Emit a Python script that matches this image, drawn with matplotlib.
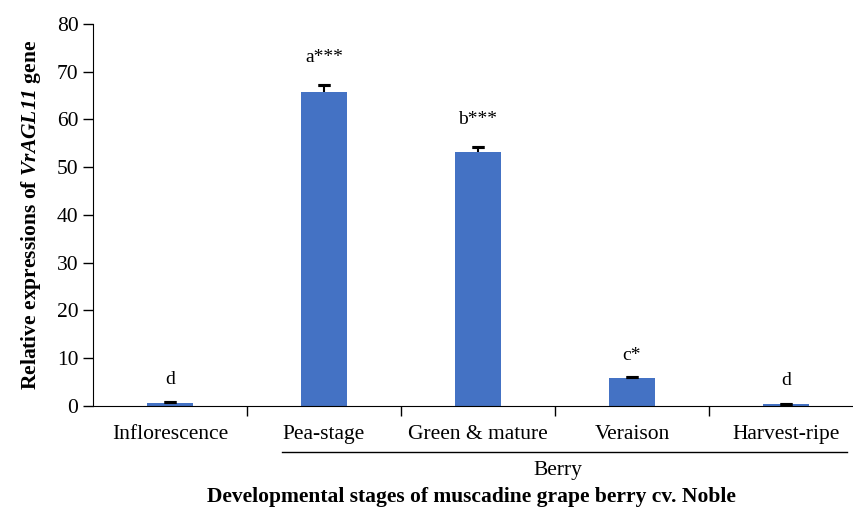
import matplotlib
matplotlib.use('Agg')
import matplotlib.pyplot as plt
import numpy as np

plt.rcParams['font.family'] = ['Liberation Serif', 'DejaVu Serif']
plt.rcParams['mathtext.fontset'] = 'custom'
plt.rcParams['mathtext.rm'] = 'Liberation Serif'
plt.rcParams['mathtext.it'] = 'Liberation Serif:italic'
plt.rcParams['mathtext.bf'] = 'Liberation Serif:bold'
plt.rcParams['mathtext.bfit'] = 'Liberation Serif:italic:bold'

stages = ['Inflorescence', 'Pea-stage', 'Green & mature', 'Veraison', 'Harvest-ripe']
expr = [0.7, 65.7, 53.1, 5.9, 0.35]
err = [0.2, 1.6, 1.2, 0.2, 0.1]
letters = ['d', 'a***', 'b***', 'c*', 'd']
letter_y = [5.5, 73.0, 60.0, 10.5, 5.4]

fig = plt.figure(figsize=(8.54, 5.09), dpi=100)
ax = fig.add_axes([0.1089, 0.2024, 0.9016, 0.7505])

x = np.arange(len(stages))
ax.bar(x, expr, width=0.3, color='#4472C4', zorder=2)

# upper error only: stem plus a cap on top
top = np.array(expr) + np.array(err)
ax.vlines(x, expr, top, color='black', lw=1.5, zorder=3)
ax.errorbar(x, top, yerr=0, fmt='none', ecolor='black', elinewidth=0,
            capsize=4.5, capthick=2.2, zorder=3)

for xi, lab, ly in zip(x, letters, letter_y):
    ax.text(xi, ly, lab, ha='center', va='center', fontsize=14)

ax.set_xlim(-0.5, 4.5)
ax.set_ylim(0, 80)
ax.set_yticks(np.arange(0, 81, 10))
ax.tick_params(axis='y', labelsize=15.5, length=7, direction='out', width=1)

# category labels centred, ticks on the boundaries between groups
ax.set_xticks(x)
ax.set_xticklabels(stages, fontsize=15.5)
ax.tick_params(axis='x', length=0, pad=14)
ax.set_xticks(np.arange(0.5, 4.5, 1.0), minor=True)
ax.tick_params(axis='x', which='minor', length=7, width=1)

for s in ['top', 'right']:
    ax.spines[s].set_visible(False)

# bracket grouping the berry stages
ax.plot([0.727, 4.396], [-0.12, -0.12], color='black', lw=1,
        transform=ax.get_xaxis_transform(), clip_on=False)
ax.text(2.52, -0.17, 'Berry', ha='center', va='center', fontsize=15.5,
        transform=ax.get_xaxis_transform())
ax.text(1.96, -0.238, 'Developmental stages of muscadine grape berry cv. Noble',
        ha='center', va='center', fontsize=15.5, fontweight='bold',
        transform=ax.get_xaxis_transform())

ax.set_ylabel(r'Relative expressions of $\mathbfit{VrAGL11}$ gene',
              fontsize=15.5, fontweight='bold', labelpad=10)

fig.savefig('out.png', dpi=100)
